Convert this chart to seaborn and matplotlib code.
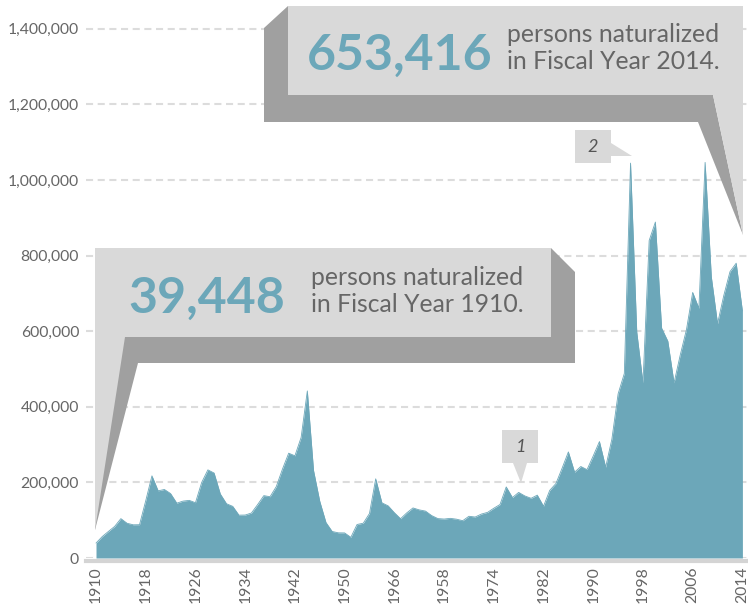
import numpy as np
import pandas as pd
import seaborn as sns
import matplotlib.pyplot as plt
from matplotlib.patches import Polygon
from matplotlib.ticker import FuncFormatter

# Figure size in pixels (saved at dpi=100)
W, H = 748, 604

# Persons naturalized per fiscal year
years = list(range(1910, 2015))
naturalized = [
    39448, 56683, 70310, 83561, 104145, 91848, 87831, 88104, 151449, 217358,      # 1910-1919
    177683, 181292, 170447, 145084, 150510, 152457, 146239, 199804, 233155, 224728,  # 1920-1929
    169377, 143495, 136598, 113363, 113669, 118945, 141265, 164976, 162078, 188813,  # 1930-1939
    235260, 277294, 270364, 318933, 441979, 231402, 150062, 93904, 70150, 66594,     # 1940-1949
    66346, 54716, 88655, 92051, 117831, 209526, 145885, 138043, 119866, 103931,      # 1950-1959
    119442, 132450, 127307, 124178, 112234, 104299, 103059, 104902, 102726, 98709,   # 1960-1969
    110399, 108407, 116215, 120740, 131655, 141537, 188000, 159873, 173535, 164150,  # 1970-1979
    157938, 166317, 137000, 178948, 197023, 238000, 280623, 227008, 242063, 233777,  # 1980-1989
    270101, 308058, 240252, 314681, 434107, 488088, 1044689, 598225, 463060, 839944,  # 1990-1999
    888788, 608205, 573708, 463204, 537151, 604280, 702589, 660477, 1046539, 743715,  # 2000-2009
    619913, 694193, 757434, 779929, 653416,                                          # 2010-2014
]

# x tick labels as printed on the original (note 1966/1958 order)
tick_years = list(range(1910, 2015, 8))
tick_labels = ["1910", "1918", "1926", "1934", "1942", "1950", "1966",
               "1958", "1974", "1982", "1990", "1998", "2006", "2014"]
y_ticks = [0, 200000, 400000, 600000, 800000, 1000000, 1200000, 1400000]

TEAL = "#6ca7b9"
LIGHT = "#d9d9d9"
DARK = "#a0a0a0"
TEXT = "#666666"

df = pd.DataFrame({"year": years, "naturalized": naturalized})

sns.set_theme(style="white")
plt.rcParams["font.family"] = ["Lato", "DejaVu Sans"]

fig = plt.figure(figsize=(W / 100, H / 100), dpi=100)

# axes: zero line at y=558px, 0.378 px per thousand
YMAX = 1470000
ax_h = YMAX / 1000 * 0.378
ax = fig.add_axes([86 / W, (H - 558) / H, (W - 86) / W, ax_h / H])

ax.fill_between(df["year"], df["naturalized"], 0, color=TEAL, lw=0, zorder=2)
sns.lineplot(data=df, x="year", y="naturalized", color=TEAL, lw=0.6, ax=ax, zorder=3)

ax.set_xlim(1908.39, 2014.9)
ax.set_ylim(0, YMAX)
ax.set_xlabel("")
ax.set_ylabel("")

ax.set_yticks(y_ticks)
ax.yaxis.set_major_formatter(FuncFormatter(lambda v, p: f"{int(v):,}"))
ax.set_xticks(tick_years)
ax.set_xticklabels(tick_labels)

ax.yaxis.grid(True, color="#dcdcdc", lw=1.5, linestyle=(0, (3.4, 2.2)))
ax.xaxis.grid(False)
ax.set_axisbelow(True)

for side in ["left", "top", "right"]:
    ax.spines[side].set_visible(False)
ax.spines["bottom"].set_color("#d4d4d4")
ax.spines["bottom"].set_linewidth(3)
ax.spines["bottom"].set_position(("outward", 1.8))

ax.tick_params(axis="both", length=0, labelsize=11.3, labelcolor=TEXT)
ax.tick_params(axis="y", pad=5)
ax.tick_params(axis="x", pad=4, labelrotation=90)


def px(x, y):
    return (x / W, 1 - y / H)


def shape(pts, color, z):
    fig.add_artist(Polygon([px(x, y) for x, y in pts], closed=True,
                           transform=fig.transFigure, facecolor=color,
                           edgecolor="none", zorder=z))


def label(x, y, s, **kw):
    fig.text(*px(x, y), s, ha="left", va="baseline", zorder=10, **kw)


# top callout (FY 2014)
shape([(288, 6), (264, 28), (264, 122), (698, 122), (743, 235), (713, 95), (288, 95)], DARK, 5)
shape([(288, 6), (743, 6), (743, 235), (713, 95), (288, 95)], LIGHT, 6)
label(307, 70, "653,416", fontsize=36, fontweight="bold", color=TEAL)
label(507, 42, "persons naturalized", fontsize=17.8, color=TEXT)
label(507, 69, "in Fiscal Year 2014.", fontsize=17.8, color=TEXT)

# lower callout (FY 1910)
shape([(551, 248), (575, 272), (575, 363), (138, 363), (95, 530), (95, 337), (551, 337)], DARK, 5)
shape([(95, 248), (551, 248), (551, 337), (125, 337), (95, 530)], LIGHT, 6)
label(128, 313, "39,448", fontsize=36, fontweight="bold", color=TEAL)
label(311, 285, "persons naturalized", fontsize=17.8, color=TEXT)
label(311, 312, "in Fiscal Year 1910.", fontsize=17.8, color=TEXT)

# small markers 1 and 2
shape([(502, 430), (538, 430), (538, 463), (527, 463), (521, 483), (513, 463), (502, 463)], LIGHT, 6)
fig.text(*px(520, 447), "1", ha="center", va="center", fontsize=13,
         style="italic", color="#555555", zorder=10)
shape([(575, 130), (611, 130), (611, 143), (632, 156), (611, 156), (611, 163), (575, 163)], LIGHT, 6)
fig.text(*px(593, 147), "2", ha="center", va="center", fontsize=13,
         style="italic", color="#555555", zorder=10)

fig.savefig("out.png", dpi=100)
